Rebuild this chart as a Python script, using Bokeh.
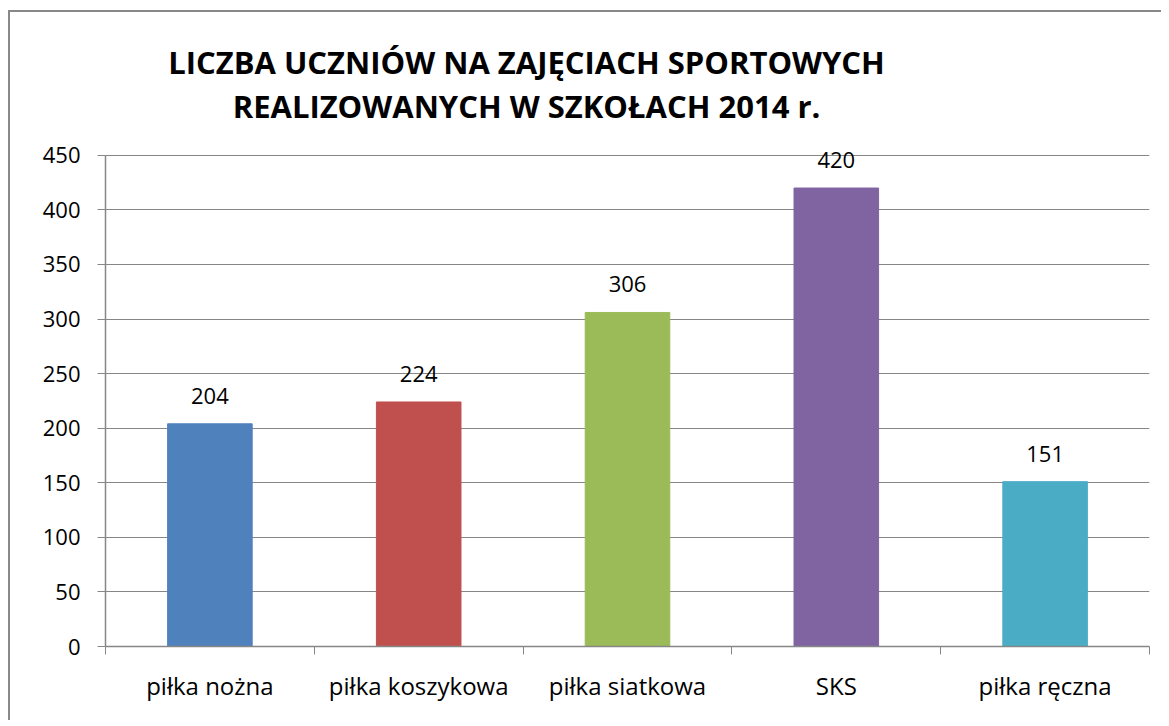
from bokeh.plotting import figure
from bokeh.models import ColumnDataSource, FixedTicker, Range1d, LabelSet, Label
from bokeh.core.properties import value
from bokeh.embed import file_html
from bokeh.resources import INLINE

categories = ["piłka nożna", "piłka koszykowa", "piłka siatkowa", "SKS", "piłka ręczna"]
values = [204, 224, 306, 420, 151]
colors = ["#4F81BD", "#C0504D", "#9BBB59", "#8064A2", "#4BACC6"]
y_ticks = [0, 50, 100, 150, 200, 250, 300, 350, 400, 450]
title_lines = ["LICZBA UCZNIÓW NA ZAJĘCIACH SPORTOWYCH", "REALIZOWANYCH W SZKOŁACH 2014 r."]

xs = [i + 0.5 for i in range(len(categories))]
src = ColumnDataSource(dict(x=xs, top=values, color=colors,
                            label=[str(v) for v in values]))

W, H = 1153, 710
BORDER_BOTTOM = 76
AXIS_PX = 492          # pixel height of the 0..450 span
FRAME_PX = H - BORDER_BOTTOM + 1
y_max = y_ticks[-1]
y_end = y_max * FRAME_PX / AXIS_PX

p = figure(width=W, height=H, output_backend="svg", toolbar_location=None,
           x_range=Range1d(0, len(categories)), y_range=Range1d(0, y_end),
           min_border_left=95, min_border_right=14, min_border_top=0,
           min_border_bottom=BORDER_BOTTOM, background_fill_color="white",
           border_fill_color="white")
p.outline_line_color = None
p.styles = {"border-left": "2px solid #888888", "border-top": "2px solid #888888",
            "box-sizing": "border-box", "margin-left": "8px", "margin-top": "10px"}

p.vbar(x="x", top="top", width=0.405, color="color", source=src)

font = "Open Sans"
# y axis
p.yaxis.ticker = FixedTicker(ticks=y_ticks)
p.yaxis.bounds = (0, y_max)
p.yaxis.axis_line_color = "#868686"
p.yaxis.axis_line_width = 1.5
p.yaxis.major_tick_line_color = "#868686"
p.yaxis.major_tick_out = 8
p.yaxis.major_tick_in = 0
p.yaxis.minor_tick_line_color = None
p.yaxis.major_label_text_font = font
p.yaxis.major_label_text_font_size = "22px"
p.yaxis.major_label_text_color = "black"
p.yaxis.major_label_standoff = 17

# x axis
p.xaxis.ticker = FixedTicker(ticks=xs, minor_ticks=list(range(len(categories) + 1)))
p.xaxis.major_label_overrides = {x: c for x, c in zip(xs, categories)}
p.xaxis.axis_line_color = "#868686"
p.xaxis.axis_line_width = 1.5
p.xaxis.major_tick_line_color = None
p.xaxis.minor_tick_line_color = "#868686"
p.xaxis.minor_tick_out = 8
p.xaxis.minor_tick_in = 0
p.xaxis.major_label_text_font = font
p.xaxis.major_label_text_font_size = "24px"
p.xaxis.major_label_text_color = "black"
p.xaxis.major_label_standoff = 14

p.xgrid.grid_line_color = None
p.ygrid.ticker = FixedTicker(ticks=y_ticks)
p.ygrid.grid_line_color = "#868686"
p.ygrid.grid_line_width = 1

labels = LabelSet(x="x", y="top", text="label", source=src, y_offset=20,
                  text_align="center", text_baseline="bottom",
                  text_font=value(font), text_font_size=value("22px"),
                  text_color="black")
p.add_layout(labels)

for i, t in enumerate(title_lines):
    p.add_layout(Label(x=421, y=585 - 44 * i, x_units="screen", y_units="screen",
                       text=t, text_align="center", text_baseline="middle",
                       text_font=font, text_font_size="31px", text_font_style="bold",
                       text_color="black"))

open("out.html", "w").write(file_html(p, INLINE))
